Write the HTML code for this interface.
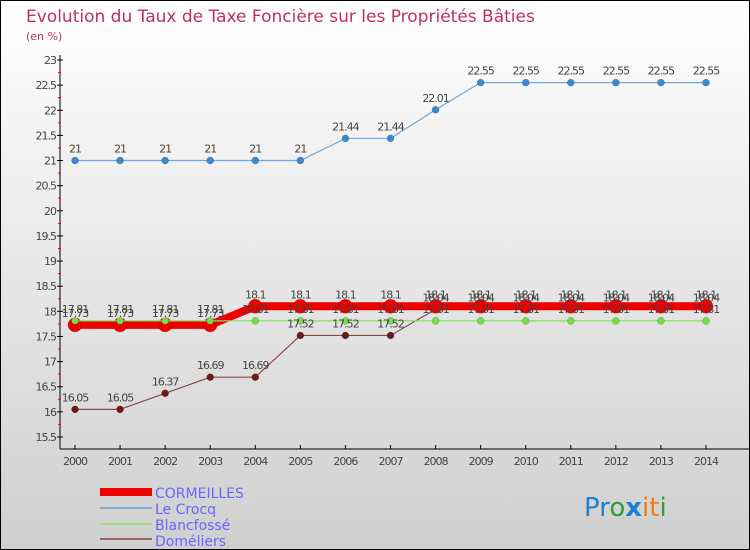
<!DOCTYPE html>
<html><head><meta charset="utf-8"><style>
body{margin:0}
#c{width:750px;height:550px;position:relative;overflow:hidden}
svg text{font-family:"DejaVu Sans","Liberation Sans",sans-serif}
</style></head><body>
<div id="c">
<svg id="s" width="750" height="550" xmlns="http://www.w3.org/2000/svg">
<defs><linearGradient id="bg" x1="0" y1="0" x2="0" y2="1"><stop offset="0" stop-color="#ffffff"/><stop offset="1" stop-color="#cfcfcf"/></linearGradient></defs>
<rect x="0.5" y="0.5" width="749" height="549" fill="url(#bg)" stroke="#000"/>
<text x="26" y="22" font-size="17" fill="#c0305f">Evolution du Taux de Taxe Foncière sur les Propriétés Bâties</text>
<text x="26" y="40" font-size="11" fill="#c0305f">(en %)</text>
<g id="axes"></g><g id="series"></g><g id="labels"></g>
<g>
<rect x="100" y="488" width="52" height="8" fill="#ee0000"/>
<text x="155" y="498" font-size="14" fill="#6666ff">CORMEILLES</text>
<rect x="100" y="507" width="52" height="2" fill="#7aaed6"/>
<text x="155" y="514" font-size="14" fill="#6666ff">Le Crocq</text>
<rect x="100" y="523" width="52" height="2" fill="#99dd77"/>
<text x="155" y="530" font-size="14" fill="#6666ff">Blancfossé</text>
<rect x="100" y="538" width="52" height="2" fill="#9a6464"/>
<text x="155" y="546" font-size="14" fill="#6666ff">Doméliers</text>
</g>
<g font-size="26">
<text x="584" y="516"><tspan fill="#1e7fd0">Pr</tspan><tspan fill="#2aa040">o</tspan><tspan fill="#1e7fd0" font-weight="bold">x</tspan><tspan fill="#f07a10">it</tspan><tspan fill="#2aa040">i</tspan></text>
</g>
</svg></div>
<script>
const years=[2000,2001,2002,2003,2004,2005,2006,2007,2008,2009,2010,2011,2012,2013,2014];
const yTicks=[15.5,16,16.5,17,17.5,18,18.5,19,19.5,20,20.5,21,21.5,22,22.5,23];
const cormeilles=[17.73,17.73,17.73,17.73,18.1,18.1,18.1,18.1,18.1,18.1,18.1,18.1,18.1,18.1,18.1];
const leCrocq=[21,21,21,21,21,21,21.44,21.44,22.01,22.55,22.55,22.55,22.55,22.55,22.55];
const blancfosse=[17.81,17.81,17.81,17.81,17.81,17.81,17.81,17.81,17.81,17.81,17.81,17.81,17.81,17.81,17.81];
const domeliers=[16.05,16.05,16.37,16.69,16.69,17.52,17.52,17.52,18.04,18.04,18.04,18.04,18.04,18.04,18.04];
const NS="http://www.w3.org/2000/svg";
const xS=i=>75+i*(706-75)/(years.length-1);
const yS=v=>60+(23-v)*(437-60)/7.5;
function mk(t,a,p){const e=document.createElementNS(NS,t);for(const k in a)e.setAttribute(k,a[k]);p.appendChild(e);return e;}
const ax=document.getElementById('axes');
let e=mk('line',{x1:60,y1:55,x2:60,y2:449,stroke:'#000'},ax);


e=mk('line',{x1:60,y1:449,x2:750,y2:449,stroke:'#000'},ax);


yTicks.forEach((v,i)=>{
 mk('line',{x1:57,y1:yS(v),x2:63,y2:yS(v),stroke:'#000'},ax);
 if(i<yTicks.length-1)mk('line',{x1:58,y1:yS(v+0.25),x2:61,y2:yS(v+0.25),stroke:'#f00'},ax);
 const t=mk('text',{x:56,y:yS(v)+4,'font-size':11,fill:'#444','text-anchor':'end','letter-spacing':'-1'},ax);
 t.textContent=String(v);
 
 
});
years.forEach((y,i)=>{
 mk('line',{x1:xS(i),y1:445,x2:xS(i),y2:449,stroke:'#000'},ax);
 const t=mk('text',{x:xS(i),y:465,'font-size':11,fill:'#444','text-anchor':'middle','letter-spacing':'-1'},ax);
 t.textContent=String(y);
 
 
});
const sg=document.getElementById('series'),lg=document.getElementById('labels');
function series(vals,name,color,w,r,dot){
 const g=mk('g',{},sg);
 
 
 const p=mk('polyline',{points:vals.map((v,i)=>xS(i)+','+yS(v)).join(' '),fill:'none',stroke:color,'stroke-width':w},g);
 
 
 vals.forEach((v,i)=>{
  const c=mk('circle',{cx:xS(i),cy:yS(v),r:r,fill:dot,stroke:'rgba(0,0,0,0.3)','stroke-width':0.5},g);
  
  
  const t=mk('text',{x:xS(i),y:yS(v)-8,'font-size':11,fill:'#444','text-anchor':'middle','letter-spacing':'-1'},lg);
  t.textContent=String(v);
  
  
 });
}
series(leCrocq,'le-crocq','#6fa8d8',1.2,3.5,'#3a8ad0');
series(domeliers,'domeliers','#8a4a4a',1.2,3.5,'#6a1a1a');
series(cormeilles,'cormeilles','#ee0000',8,7,'#ee0000');
series(blancfosse,'blancfosse','#88dd66',1.2,3.5,'#77dd44');
</script>
</body></html>
